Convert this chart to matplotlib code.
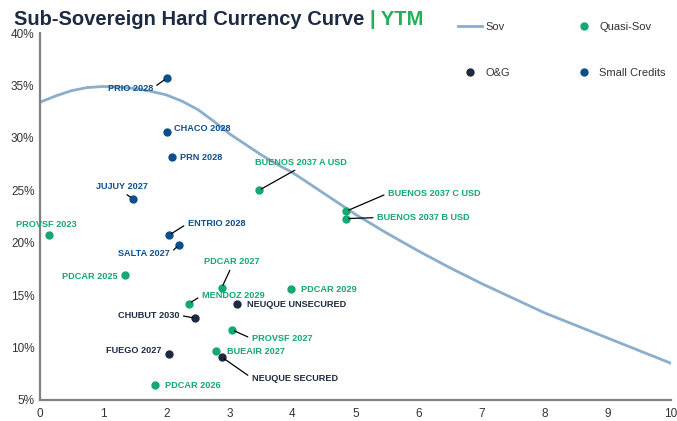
import matplotlib
matplotlib.use("Agg")
import matplotlib.pyplot as plt
from matplotlib.lines import Line2D

plt.rcParams['font.family'] = ['Liberation Sans', 'DejaVu Sans']

# --- colours ---
C_SOV = "#8aaecb"
C_QUASI = "#14a872"
C_OG = "#1c2a42"
C_SMALL = "#0d4f8b"
C_TITLE = "#1c2a42"
C_YTM = "#1fb25a"

# --- sovereign curve (every 0.25y) ---
sov_x = [0, 0.25, 0.5, 0.75, 1, 1.25, 1.5, 1.75, 2, 2.25, 2.5, 2.75, 3, 3.25, 3.5, 3.75,
         4, 4.25, 4.5, 4.75, 5, 5.25, 5.5, 5.75, 6, 6.25, 6.5, 6.75, 7, 7.25, 7.5, 7.75,
         8, 8.25, 8.5, 8.75, 9, 9.25, 9.5, 9.75, 10]
sov_y = [33.4, 34.0, 34.5, 34.8, 34.9, 34.85, 34.7, 34.45, 34.1, 33.5, 32.7, 31.6, 30.4,
         29.4, 28.4, 27.5, 26.7, 25.7, 24.7, 23.7, 22.7, 21.8, 20.9, 20.05, 19.2, 18.4,
         17.6, 16.85, 16.1, 15.4, 14.7, 14.0, 13.3, 12.7, 12.1, 11.5, 10.9, 10.3, 9.7,
         9.1, 8.5]

# --- bonds: name, duration, ytm, group ---
names = ["PRIO 2028", "CHACO 2028", "PRN 2028", "JUJUY 2027", "ENTRIO 2028", "SALTA 2027",
         "BUENOS 2037 A USD", "BUENOS 2037 C USD", "BUENOS 2037 B USD", "PROVSF 2023",
         "PDCAR 2025", "PDCAR 2027", "PDCAR 2029", "MENDOZ 2029", "PROVSF 2027",
         "BUEAIR 2027", "PDCAR 2026",
         "NEUQUE UNSECURED", "CHUBUT 2030", "FUEGO 2027", "NEUQUE SECURED"]
dur = [2.01, 2.01, 2.09, 1.47, 2.04, 2.20,
       3.47, 4.85, 4.85, 0.14,
       1.35, 2.88, 3.98, 2.36, 3.04,
       2.79, 1.82,
       3.12, 2.46, 2.04, 2.88]
ytm = [35.7, 30.6, 28.2, 24.2, 20.7, 19.8,
       25.0, 23.0, 22.3, 20.7,
       16.9, 15.7, 15.6, 14.2, 11.7,
       9.7, 6.4,
       14.2, 12.8, 9.4, 9.1]
group = ["Small Credits"] * 6 + ["Quasi-Sov"] * 11 + ["O&G"] * 4

group_color = {"Quasi-Sov": C_QUASI, "O&G": C_OG, "Small Credits": C_SMALL}

# label layout: offset in pixels (dx right, dy up), horizontal alignment, leader line
label_pos = {
    "PRIO 2028": (-14, -10, "right", True),
    "CHACO 2028": (7, 3, "left", False),
    "PRN 2028": (8, -1, "left", False),
    "JUJUY 2027": (-11, 12, "center", True),
    "ENTRIO 2028": (19, 12, "left", True),
    "SALTA 2027": (-9, -9, "right", True),
    "BUENOS 2037 A USD": (42, 28, "center", True),
    "BUENOS 2037 C USD": (42, 18, "left", True),
    "BUENOS 2037 B USD": (31, 1, "left", True),
    "PROVSF 2023": (-3, 11, "center", False),
    "PDCAR 2025": (-8, -1, "right", False),
    "PDCAR 2027": (10, 26, "center", True),
    "PDCAR 2029": (10, -1, "left", False),
    "MENDOZ 2029": (13, 8, "left", True),
    "PROVSF 2027": (20, -9, "left", True),
    "BUEAIR 2027": (11, -1, "left", False),
    "PDCAR 2026": (10, 0, "left", False),
    "NEUQUE UNSECURED": (10, -1, "left", False),
    "CHUBUT 2030": (-16, 3, "right", True),
    "FUEGO 2027": (-7, 3, "right", False),
    "NEUQUE SECURED": (30, -21, "left", True),
}

fig = plt.figure(figsize=(6.77, 4.21), dpi=100)
ax = fig.add_axes([40 / 677, 21 / 421, 631 / 677, 367 / 421])

ax.plot(sov_x, sov_y, color=C_SOV, lw=2.0, zorder=2, solid_joinstyle="round")

for n, x, y, g in zip(names, dur, ytm, group):
    col = group_color[g]
    ax.plot(x, y, "o", color=col, ms=5, zorder=4)
    dx, dy, ha, lead = label_pos[n]
    relx = {"left": 0.0, "right": 1.0, "center": 0.5}[ha]
    ap = None
    if lead:
        ap = dict(arrowstyle="-", color="black", lw=0.9, shrinkA=1, shrinkB=2,
                  relpos=(relx, 0.5) if ha != "center" else (0.5, 0.0 if dy > 0 else 1.0))
    ax.annotate(n, (x, y), xytext=(dx * 0.72, dy * 0.72), textcoords="offset points",
                ha=ha, va="center", fontsize=6.6, fontweight="bold", color=col,
                arrowprops=ap, zorder=5)

ax.set_xlim(0, 10)
ax.set_ylim(5, 40)
ax.set_xticks(range(0, 11))
ax.set_yticks(range(5, 41, 5))
ax.set_yticklabels([f"{v}%" for v in range(5, 41, 5)])
ax.tick_params(length=0, labelsize=8.5, colors="#333333", pad=6)
ax.tick_params(axis="y", pad=4)
for s in ["top", "right"]:
    ax.spines[s].set_visible(False)
for s in ["left", "bottom"]:
    ax.spines[s].set_color("#808080")
    ax.spines[s].set_linewidth(1.6)

# title
t1 = fig.text(14 / 677, 1 - 25 / 421, "Sub-Sovereign Hard Currency Curve ", fontsize=14.5,
              fontweight="bold", color=C_TITLE, ha="left", va="baseline")
fig.canvas.draw()
bb = t1.get_window_extent()
fig.text(bb.x1 / fig.bbox.width, 1 - 25 / 421, "| YTM", fontsize=14.5, fontweight="bold",
         color=C_YTM, ha="left", va="baseline")

# legend
handles = [
    Line2D([0], [0], color=C_SOV, lw=2, label="Sov"),
    Line2D([0], [0], color=C_OG, marker="o", ms=5, lw=0, label="O&G"),
    Line2D([0], [0], color=C_QUASI, marker="o", ms=5, lw=0, label="Quasi-Sov"),
    Line2D([0], [0], color=C_SMALL, marker="o", ms=5, lw=0, label="Small Credits"),
]
fig.legend(handles=handles, ncol=2, loc="upper left", bbox_to_anchor=(448 / 677, 1 - 12 / 421),
           frameon=False, fontsize=8, labelspacing=3.2, columnspacing=5.5,
           handlelength=2.2, handletextpad=0.3, labelcolor="#333333")

fig.savefig("out.png", dpi=100, facecolor="white")
